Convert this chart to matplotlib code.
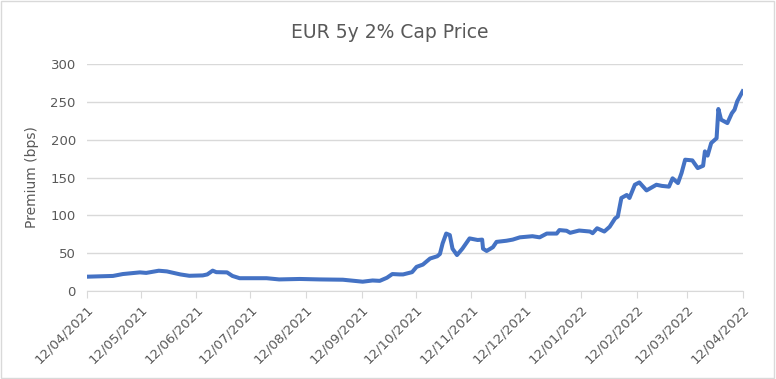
import matplotlib.pyplot as plt
import matplotlib.dates as mdates
import pandas as pd
from matplotlib.patches import Rectangle

# cap premium (days after 12/04/2021, bps)
day_offset = [0, 14.5, 20, 29.5, 33, 40, 44.5, 52, 57, 64.5, 67, 70, 72, 78, 81,
              85, 100, 107, 118.5, 129.5, 142.5, 148, 153.5, 159, 163, 167, 170,
              174, 176, 181, 183.5, 187, 191, 195, 196.5, 198, 200, 202, 203.5,
              206, 209, 213, 217.5, 220, 220.5, 222.5, 226, 228, 233.5, 237, 241,
              248, 252, 256, 261.5, 263, 267, 269, 274, 280, 281.5, 284, 288,
              291, 294, 295.5, 297.5, 300.5, 302, 305, 307.5, 311.5, 317, 320,
              324, 326, 329, 331, 333, 337, 340, 343, 344, 345.5, 347.5, 350.5,
              351.5, 353, 356.5, 359, 360.5, 362, 365]
premium = [19, 20, 22.5, 24.7, 24, 26.9, 26, 22, 20.2, 20.7, 22, 27, 25, 24.7, 20,
           17, 17, 15.4, 16, 15.4, 15, 13.7, 12.4, 14, 13.5, 17.6, 22.5,
           22, 22, 25, 32, 35, 43, 46, 49, 63, 76, 74, 56,
           47.6, 56, 69.6, 67.5, 68, 56, 53, 58, 65, 66.5, 68, 71,
           72.5, 71, 76, 76, 80.6, 79.7, 77, 80, 78.7, 76.5, 83, 78.7,
           85, 96, 98.5, 123, 127, 123, 140.5, 143.6, 133, 140.5, 139,
           138, 149, 142.7, 156, 173.6, 172.7, 162.5, 165.6, 184.6, 179, 195.6, 202,
           240.6, 226.5, 222, 235, 239.7, 250.8, 264]

start = pd.Timestamp("2021-04-12")
end = pd.Timestamp("2022-04-12")
dates = start + pd.to_timedelta(day_offset, unit="D")
tick_dates = [start + pd.DateOffset(months=m) for m in range(13)]

grey_text = "#595959"
grid_grey = "#d9d9d9"

fig = plt.figure(figsize=(7.76, 3.79), dpi=100)
ax = fig.add_axes([0.112, 0.232, 0.845, 0.599])

ax.plot(dates, premium, color="#4472C4", linewidth=2.9, solid_joinstyle="round")

ax.set_xlim(start, end)
ax.set_ylim(0, 300)
ax.set_yticks(range(0, 301, 50))
ax.yaxis.grid(True, color=grid_grey, linewidth=1)
ax.set_axisbelow(True)

ax.set_xticks(tick_dates)
ax.xaxis.set_major_formatter(mdates.DateFormatter("%d/%m/%Y"))
for lbl in ax.get_xticklabels():
    lbl.set_rotation(45)
    lbl.set_ha("right")
    lbl.set_rotation_mode("anchor")

for side in ["top", "right", "left"]:
    ax.spines[side].set_visible(False)
ax.spines["bottom"].set_color(grid_grey)
ax.tick_params(axis="x", colors=grid_grey, labelcolor=grey_text, labelsize=9.5,
               length=5, direction="out")
ax.tick_params(axis="y", length=0, labelcolor=grey_text, labelsize=9.5, pad=8)

ax.set_ylabel("Premium (bps)", color=grey_text, fontsize=10, labelpad=8)
fig.text(0.502, 0.915, "EUR 5y 2% Cap Price", ha="center", va="center",
         fontsize=13.5, color=grey_text)

fig.patches.append(Rectangle((0.001, 0.002), 0.997, 0.995, transform=fig.transFigure,
                             fill=False, edgecolor=grid_grey, linewidth=1))

fig.savefig("out.png", dpi=100)
